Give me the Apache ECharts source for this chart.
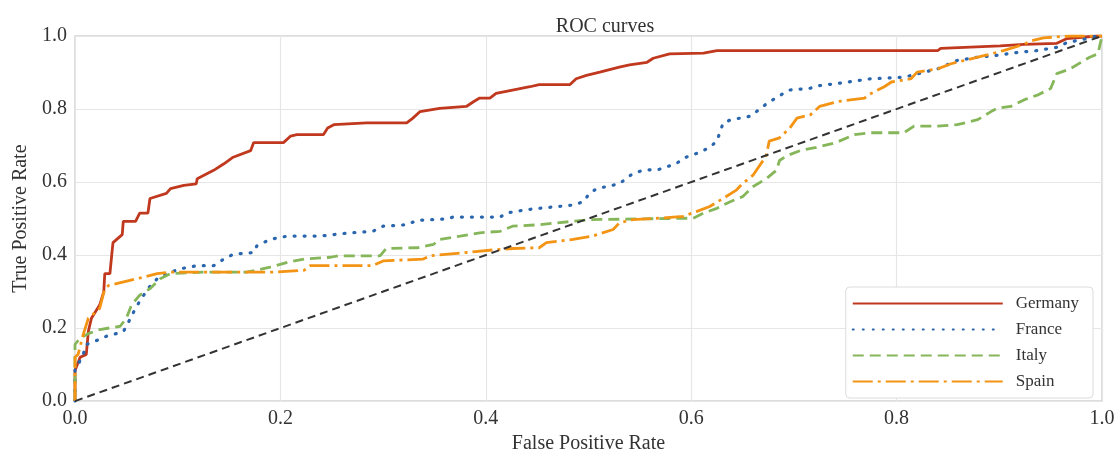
<!DOCTYPE html>
<html>
<head>
<meta charset="utf-8">
<title>ROC curves</title>
<script src="https://cdn.jsdelivr.net/npm/echarts@6/dist/echarts.min.js"></script>
<style>
    html, body { margin: 0; padding: 0; background: #fff; }
    #chart { width: 1118px; height: 459px; }
</style>
</head>
<body>
<div id="chart"></div>
<script>
const font = 'Liberation Serif'
const axis_ticks = [0, 0.2, 0.4, 0.6, 0.8, 1.0]
const countries = ['Germany', 'France', 'Italy', 'Spain']

// [false positive rate, true positive rate]
const germany = [
    [0, 0], [0, 0.084], [0.005, 0.12], [0.011, 0.128], [0.013, 0.191], [0.016, 0.227], [0.024, 0.263],
    [0.028, 0.299], [0.029, 0.349], [0.034, 0.349], [0.036, 0.407], [0.037, 0.434], [0.046, 0.456],
    [0.047, 0.492], [0.059, 0.492], [0.063, 0.515], [0.071, 0.515], [0.073, 0.555], [0.089, 0.569],
    [0.093, 0.582], [0.106, 0.591], [0.118, 0.595], [0.119, 0.609], [0.135, 0.632], [0.145, 0.65],
    [0.154, 0.668], [0.171, 0.686], [0.174, 0.708], [0.203, 0.708], [0.21, 0.726], [0.216, 0.73],
    [0.242, 0.73], [0.246, 0.748], [0.252, 0.757], [0.284, 0.762], [0.323, 0.762], [0.329, 0.775],
    [0.336, 0.793], [0.355, 0.802], [0.381, 0.807], [0.388, 0.82], [0.394, 0.83], [0.404, 0.83],
    [0.41, 0.843], [0.426, 0.852], [0.443, 0.861], [0.452, 0.867], [0.482, 0.867], [0.488, 0.883],
    [0.498, 0.892], [0.511, 0.901], [0.53, 0.915], [0.54, 0.921], [0.557, 0.928], [0.563, 0.939],
    [0.579, 0.951], [0.612, 0.953], [0.625, 0.96], [0.84, 0.96], [0.843, 0.966], [0.901, 0.973],
    [0.924, 0.977], [0.956, 0.98], [0.966, 0.993], [0.995, 1], [1, 1]
]
const france = [
    [0, 0], [0, 0.085], [0.003, 0.1], [0.008, 0.128], [0.011, 0.155], [0.024, 0.169], [0.031, 0.178],
    [0.047, 0.19], [0.05, 0.205], [0.06, 0.26], [0.071, 0.308], [0.08, 0.335], [0.093, 0.353],
    [0.102, 0.362], [0.119, 0.371], [0.135, 0.371], [0.145, 0.389], [0.154, 0.402], [0.174, 0.407],
    [0.177, 0.425], [0.19, 0.443], [0.207, 0.452], [0.239, 0.452], [0.268, 0.461], [0.29, 0.465],
    [0.3, 0.479], [0.323, 0.483], [0.333, 0.495], [0.362, 0.499], [0.368, 0.504], [0.414, 0.504],
    [0.42, 0.515], [0.439, 0.524], [0.452, 0.528], [0.485, 0.537], [0.495, 0.546], [0.501, 0.569],
    [0.508, 0.582], [0.53, 0.595], [0.543, 0.623], [0.553, 0.632], [0.569, 0.635], [0.585, 0.65],
    [0.595, 0.668], [0.608, 0.681], [0.618, 0.695], [0.625, 0.712], [0.631, 0.761], [0.638, 0.77],
    [0.657, 0.78], [0.667, 0.8], [0.674, 0.816], [0.69, 0.843], [0.696, 0.852], [0.716, 0.857],
    [0.722, 0.863], [0.748, 0.872], [0.775, 0.883], [0.807, 0.887], [0.84, 0.91], [0.859, 0.933],
    [0.879, 0.942], [0.895, 0.946], [0.918, 0.955], [0.937, 0.96], [0.956, 0.969], [0.966, 0.982],
    [0.982, 0.991], [0.995, 1], [1, 1]
]
const italy = [
    [0, 0], [0, 0.155], [0.005, 0.173], [0.015, 0.187], [0.024, 0.196], [0.044, 0.205], [0.05, 0.227],
    [0.055, 0.263], [0.063, 0.29], [0.073, 0.308], [0.083, 0.335], [0.093, 0.349], [0.125, 0.353],
    [0.167, 0.353], [0.19, 0.367], [0.207, 0.38], [0.223, 0.389], [0.249, 0.394], [0.256, 0.398],
    [0.297, 0.398], [0.303, 0.418], [0.333, 0.42], [0.349, 0.429], [0.355, 0.443], [0.375, 0.452],
    [0.394, 0.461], [0.414, 0.465], [0.426, 0.479], [0.452, 0.483], [0.469, 0.488], [0.501, 0.497],
    [0.553, 0.499], [0.602, 0.501], [0.612, 0.515], [0.625, 0.528], [0.638, 0.546], [0.65, 0.56],
    [0.66, 0.587], [0.673, 0.609], [0.683, 0.632], [0.686, 0.659], [0.693, 0.672], [0.706, 0.686],
    [0.722, 0.695], [0.741, 0.708], [0.759, 0.73], [0.775, 0.735], [0.807, 0.735], [0.817, 0.753],
    [0.84, 0.753], [0.859, 0.757], [0.879, 0.771], [0.892, 0.793], [0.898, 0.802], [0.911, 0.807],
    [0.924, 0.825], [0.937, 0.838], [0.95, 0.856], [0.956, 0.897], [0.969, 0.91], [0.988, 0.942],
    [0.996, 0.951], [1, 1]
]
const spain = [
    [0, 0], [0, 0.12], [0.003, 0.128], [0.008, 0.182], [0.013, 0.227], [0.024, 0.254], [0.029, 0.308],
    [0.033, 0.317], [0.06, 0.335], [0.08, 0.349], [0.093, 0.353], [0.19, 0.353], [0.223, 0.358],
    [0.229, 0.371], [0.29, 0.371], [0.3, 0.384], [0.339, 0.389], [0.346, 0.398], [0.381, 0.407],
    [0.407, 0.414], [0.426, 0.418], [0.452, 0.42], [0.459, 0.434], [0.485, 0.443], [0.504, 0.452],
    [0.524, 0.47], [0.53, 0.488], [0.543, 0.497], [0.569, 0.501], [0.592, 0.506], [0.605, 0.519],
    [0.618, 0.533], [0.631, 0.555], [0.644, 0.578], [0.65, 0.596], [0.66, 0.618], [0.67, 0.659],
    [0.673, 0.672], [0.676, 0.712], [0.686, 0.721], [0.696, 0.748], [0.703, 0.775], [0.716, 0.784],
    [0.725, 0.807], [0.742, 0.82], [0.755, 0.825], [0.769, 0.83], [0.772, 0.838], [0.788, 0.861],
    [0.795, 0.874], [0.814, 0.883], [0.82, 0.901], [0.84, 0.91], [0.853, 0.924], [0.866, 0.933],
    [0.885, 0.946], [0.904, 0.96], [0.924, 0.977], [0.93, 0.986], [0.943, 0.995], [0.969, 1], [1, 1]
]
const chance = [[0, 0], [1, 1]]

const colors = ['#c0391f', '#2a66ad', '#86b65a', '#f39414']
const dashes = ['solid', [1, 9], [11, 6], [20, 5, 3, 5]]
const widths = [2.8, 3.2, 2.8, 2.8]

function roc_series(name, data, i) {
    return {
        name: name,
        type: 'line',
        data: data,
        showSymbol: false,
        symbol: 'none',
        silent: true,
        lineStyle: { color: colors[i], width: widths[i], type: dashes[i], cap: i === 1 ? 'round' : 'butt' },
        itemStyle: { color: colors[i] },
        z: 2 + i
    }
}

const axis_common = {
    type: 'value',
    min: 0,
    max: 1,
    interval: 0.2,
    axisLine: { show: false },
    axisTick: { show: false },
    splitLine: { lineStyle: { color: '#e6e6e6', width: 1.2 } },
    nameTextStyle: { fontFamily: font, fontSize: 20, color: '#333' },
    nameLocation: 'middle'
}

const chart = echarts.init(document.getElementById('chart'))
chart.setOption({
    animation: false,
    backgroundColor: '#fff',
    title: {
        text: 'ROC curves',
        left: 600,
        top: 12,
        textAlign: 'center',
        textStyle: { fontFamily: font, fontSize: 20, fontWeight: 'normal', color: '#333' }
    },
    grid: {
        left: 75, right: 16, top: 36, bottom: 51,
        show: true, borderColor: '#d2d2d2', borderWidth: 1.5
    },
    xAxis: Object.assign({}, axis_common, {
        name: 'False Positive Rate',
        nameGap: 30,
        axisLabel: {
            fontFamily: font, fontSize: 20, color: '#333', margin: 8,
            formatter: v => axis_ticks.includes(+v.toFixed(1)) ? v.toFixed(1) : ''
        }
    }),
    yAxis: Object.assign({}, axis_common, {
        name: 'True Positive Rate',
        nameGap: 43,
        axisLabel: {
            fontFamily: font, fontSize: 20, color: '#333', margin: 8,
            formatter: v => v.toFixed(1)
        }
    }),
    legend: {
        data: countries,
        orient: 'vertical',
        align: 'left',
        right: 25,
        bottom: 61,
        padding: [8, 14, 8, 6],
        itemWidth: 150,
        itemHeight: 14,
        itemGap: 9,
        backgroundColor: '#fff',
        borderColor: '#dcdcdc',
        borderWidth: 1,
        borderRadius: 4,
        selectedMode: false,
        // hide the marker dot that line series put in the middle of the legend line
        itemStyle: { opacity: 0, color: 'rgba(0,0,0,0)', borderWidth: 0 },
        textStyle: { fontFamily: font, fontSize: 17, color: '#333', padding: [0, 0, 0, 8] }
    },
    series: [
        roc_series('Germany', germany, 0),
        roc_series('France', france, 1),
        roc_series('Italy', italy, 2),
        roc_series('Spain', spain, 3),
        {
            name: 'chance',
            type: 'line',
            data: chance,
            showSymbol: false,
            symbol: 'none',
            silent: true,
            lineStyle: { color: '#333', width: 2, type: [8, 5] },
            z: 10
        }
    ]
})
</script>
</body>
</html>
